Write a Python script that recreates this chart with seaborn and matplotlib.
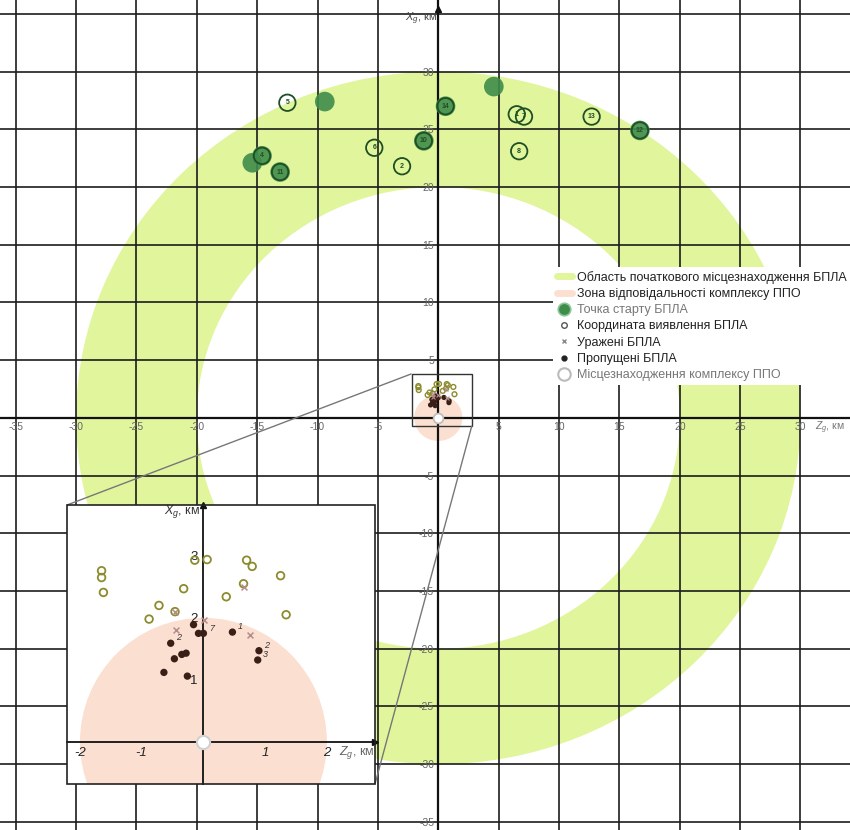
import numpy as np
import matplotlib
matplotlib.use("Agg")
import matplotlib.pyplot as plt
import seaborn as sns
from matplotlib.patches import Wedge, Circle, Rectangle
from matplotlib.lines import Line2D
from mpl_toolkits.axes_grid1.inset_locator import mark_inset

sns.set_theme(style="white")
plt.rcParams["font.family"] = ["Liberation Sans", "DejaVu Sans"]
plt.rcParams["mathtext.fontset"] = "custom"
plt.rcParams["mathtext.it"] = "Liberation Sans:italic"
plt.rcParams["mathtext.rm"] = "Liberation Sans"

# --- geometry, km ---
ring_inner = 20.0
ring_outer = 30.0
zone_radius = 2.0
grid_ticks = [-35, -30, -25, -20, -15, -10, -5, 0, 5, 10, 15, 20, 25, 30, 35]
inset_xticks = [-2, -1, 1, 2]
inset_yticks = [1, 2, 3]

# --- UAV start points (Z_g, X_g) ---
start_z = [-9.4, 4.6, -15.4, -1.2, 0.6, 16.7, -14.6, -13.1]
start_x = [27.4, 28.7, 22.1, 24.0, 27.0, 24.9, 22.7, 21.3]

# --- numbered UAV markers ---
num_z = [-12.5, -5.3, -3.0, -1.2, 0.6, 6.5, 7.1, 12.7, 6.7, 16.7, -14.6, -13.1]
num_x = [27.3, 23.4, 21.8, 24.0, 27.0, 26.3, 26.1, 26.1, 23.1, 24.9, 22.7, 21.3]
num_lbl = ["5", "6", "2", "10", "14", "1", "7", "13", "8", "12", "4", "11"]

# --- detection coordinates ---
det_z = [-0.14, 0.06, 0.70, 0.79, 1.25, -1.65, -1.65, -1.62, -0.32, 0.65, 0.37, -0.72, -0.46, -0.88, 1.34]
det_x = [2.93, 2.94, 2.93, 2.83, 2.68, 2.76, 2.65, 2.41, 2.47, 2.55, 2.34, 2.20, 2.10, 1.98, 2.05]

# --- destroyed UAVs ---
hit_z = [-0.46, 0.65, -0.44, 0.75, 0.01]
hit_x = [2.10, 2.49, 1.80, 1.72, 1.97]

# --- missed UAVs ---
miss_z = [-0.16, -0.08, 0.00, 0.47, -0.53, 0.90, 0.88, -0.28, -0.35, -0.47, -0.64, -0.26]
miss_x = [1.89, 1.75, 1.75, 1.77, 1.59, 1.47, 1.32, 1.43, 1.41, 1.34, 1.12, 1.06]
miss_tags = {3: "1", 5: "2", 6: "3", 2: "7", 4: "2"}

# --- air-defence complex position ---
ppo_z = [0.0]
ppo_x = [0.0]

c_ring = "#e1f59c"
c_zone = "#fbe0d2"
c_start = "#3f8c4b"
c_num = "#1f4f24"
c_det = "#8c8c2e"
c_hit = "#b58c8c"
c_miss = "#3a1f17"

main_xlim = (-36.3, 34.1)
main_ylim = (-35.7, 36.2)
in_xlim = (-2.21, 2.78)
in_ylim = (-0.68, 3.82)

fig = plt.figure(figsize=(8.5, 8.3), dpi=100)
ax = fig.add_axes([0, 0, 1, 1])

# areas
ax.add_patch(Wedge((0, 0), ring_outer, 0, 360, width=ring_outer - ring_inner,
                   facecolor=c_ring, edgecolor="none", zorder=0.5))
ax.add_patch(Circle((0, 0), zone_radius, facecolor=c_zone, edgecolor="none", zorder=0.6))

# start points and numbered markers
sns.scatterplot(x=start_z, y=start_x, s=200, color=c_start, alpha=0.9,
                edgecolor="none", ax=ax, zorder=4, legend=False)
sns.scatterplot(x=num_z, y=num_x, s=140, facecolor="none", edgecolor=c_num,
                linewidth=1.3, ax=ax, zorder=5, legend=False)
for z, x, t in zip(num_z, num_x, num_lbl):
    ax.text(z, x, t, fontsize=5, ha="center", va="center", color=c_num,
            fontweight="bold", zorder=6)

# cluster near the complex
sns.scatterplot(x=det_z, y=det_x, s=12, facecolor="none", edgecolor=c_det,
                linewidth=1.0, ax=ax, zorder=4, legend=False)
sns.scatterplot(x=miss_z, y=miss_x, s=14, color=c_miss, edgecolor="none",
                ax=ax, zorder=4, legend=False)
sns.scatterplot(x=hit_z, y=hit_x, s=8, marker="x", color=c_hit, linewidth=0.8,
                ax=ax, zorder=4, legend=False)
sns.scatterplot(x=ppo_z, y=ppo_x, s=50, color="white", edgecolor="#bbbbbb",
                linewidth=1.2, ax=ax, zorder=4, legend=False)

# grid and axes through zero
ax.set_xlim(*main_xlim)
ax.set_ylim(*main_ylim)
ax.set_xticks(grid_ticks)
ax.set_yticks(grid_ticks)
ax.grid(True, color="#1c1c1c", lw=1.2)
for s in ["top", "right"]:
    ax.spines[s].set_visible(False)
ax.spines["left"].set_position(("data", 0))
ax.spines["bottom"].set_position(("data", 0))
for s in ["left", "bottom"]:
    ax.spines[s].set_color("#111")
    ax.spines[s].set_linewidth(1.6)
ax.set_xticklabels(["" if t in (0, 35) else str(t) for t in grid_ticks])
ax.set_yticklabels(["" if t in (0, 35) else str(t) for t in grid_ticks])
ax.tick_params(length=0, pad=3, labelsize=7.5, labelcolor="#666")
ax.set_xlabel("")
ax.set_ylabel("")
ax.set_xlim(*main_xlim)
ax.set_ylim(*main_ylim)
ax.plot([0], [35.4], marker="^", ms=4, color="#111", clip_on=False, zorder=5)
ax.text(-0.1, 34.6, r"$X_g$, км", ha="right", va="center", fontsize=8, color="#444")
ax.text(31.2, -0.9, r"$Z_g$, км", ha="left", va="center", fontsize=7.5, color="#777")

# legend
handles = [
    Line2D([], [], color=c_ring, lw=5),
    Line2D([], [], color=c_zone, lw=5),
    Line2D([], [], ls="none", marker="o", ms=9, mfc=c_start, mec="#8cc698", mew=1.2),
    Line2D([], [], ls="none", marker="o", ms=4, mfc="none", mec="#555", mew=1.0),
    Line2D([], [], ls="none", marker="x", ms=3.5, color="#888", mew=1.0),
    Line2D([], [], ls="none", marker="o", ms=3.5, color="#222"),
    Line2D([], [], ls="none", marker="o", ms=9, mfc="white", mec="#bbb", mew=1.5),
]
labels = [
    "Область початкового місцезнаходження БПЛА",
    "Зона відповідальності комплексу ППО",
    "Точка старту БПЛА",
    "Координата виявлення БПЛА",
    "Уражені БПЛА",
    "Пропущені БПЛА",
    "Місцезнаходження комплексу ППО",
]
leg = ax.legend(handles, labels, loc="upper left", bbox_to_anchor=(553 / 850, 1 - 267 / 830),
                frameon=True, facecolor="white", edgecolor="none", framealpha=1,
                fontsize=9, handlelength=1.2, handletextpad=0.45, labelspacing=0.34,
                borderpad=0.3, borderaxespad=0)
for i, txt in enumerate(leg.get_texts()):
    txt.set_color("#777" if i in (2, 6) else "#222")

# inset with the zoomed area around the complex
ax_in = fig.add_axes([67 / 850, (830 - 784) / 830, 308 / 850, 279 / 830])
ax_in.set_facecolor("white")
ax_in.grid(False)
ax_in.add_patch(Circle((0, 0), zone_radius, facecolor=c_zone, edgecolor="none", zorder=0.5))

sns.scatterplot(x=det_z, y=det_x, s=30, facecolor="none", edgecolor=c_det,
                linewidth=1.3, ax=ax_in, zorder=4, legend=False)
sns.scatterplot(x=hit_z, y=hit_x, s=18, marker="x", color=c_hit, linewidth=1.1,
                ax=ax_in, zorder=4, legend=False)
sns.scatterplot(x=miss_z, y=miss_x, s=28, color=c_miss, edgecolor="none",
                ax=ax_in, zorder=5, legend=False)
for i, t in miss_tags.items():
    ax_in.annotate(t, (miss_z[i], miss_x[i]), xytext=(4, 2), textcoords="offset points",
                   fontsize=6.5, fontstyle="italic", color="#333", zorder=6)
sns.scatterplot(x=ppo_z, y=ppo_x, s=90, color="white", edgecolor="#d0d0d0",
                linewidth=1.5, ax=ax_in, zorder=6, legend=False)
ax_in.set_xlabel("")
ax_in.set_ylabel("")
ax_in.set_xlim(*in_xlim)
ax_in.set_ylim(*in_ylim)

for s in ["top", "right"]:
    ax_in.spines[s].set_visible(False)
ax_in.spines["left"].set_position(("data", 0))
ax_in.spines["bottom"].set_position(("data", 0))
for s in ["left", "bottom"]:
    ax_in.spines[s].set_color("#111")
    ax_in.spines[s].set_linewidth(1.3)
ax_in.add_patch(Rectangle((0, 0), 1, 1, transform=ax_in.transAxes, fill=False,
                          edgecolor="#222", lw=1.2, clip_on=False, zorder=10))
ax_in.set_xticks(inset_xticks)
ax_in.set_xticklabels([str(t) for t in inset_xticks], fontstyle="italic")
ax_in.set_yticks(inset_yticks)
ax_in.set_yticklabels([str(t) for t in inset_yticks])
ax_in.tick_params(length=0, pad=4, labelsize=9.5, labelcolor="#222")
ax_in.set_xlim(*in_xlim)
ax_in.set_ylim(*in_ylim)
ax_in.plot([0], [in_ylim[1]], marker="^", ms=4, color="#111", clip_on=False, zorder=6)
ax_in.plot([in_xlim[1]], [0], marker=">", ms=4, color="#111", clip_on=False, zorder=6)
ax_in.text(-0.05, 3.72, r"$X_g$, км", ha="right", va="center", fontsize=9, color="#333")
ax_in.text(2.2, -0.17, r"$Z_g$, км", ha="left", va="center", fontsize=9, color="#666")

pp, p1, p2 = mark_inset(ax, ax_in, loc1=2, loc2=4, fc="none", ec="#333", lw=1.0)
p1.set_edgecolor("#777")
p2.set_edgecolor("#777")
pp.set_zorder(7)

fig.savefig("out.png", dpi=100)
